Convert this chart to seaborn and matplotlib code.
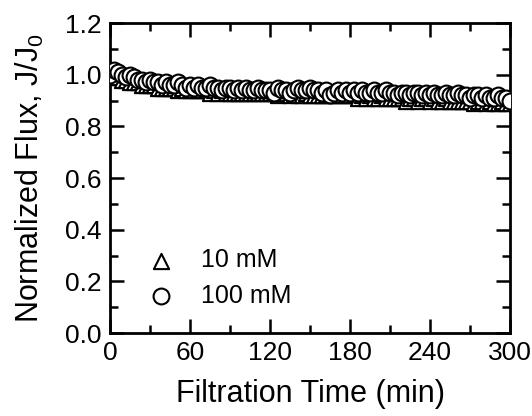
import matplotlib
matplotlib.use("Agg")
import seaborn as sns
from matplotlib import pyplot as plt
from matplotlib.ticker import MultipleLocator, FormatStrFormatter

# filtration time (min)
time_min = [
    0, 3, 6, 9, 12, 15, 18, 21, 24, 27,
    30, 33, 36, 39, 42, 45, 48, 51, 54, 57,
    60, 63, 66, 69, 72, 75, 78, 81, 84, 87,
    90, 93, 96, 99, 102, 105, 108, 111, 114, 117,
    120, 123, 126, 129, 132, 135, 138, 141, 144, 147,
    150, 153, 156, 159, 162, 165, 168, 171, 174, 177,
    180, 183, 186, 189, 192, 195, 198, 201, 204, 207,
    210, 213, 216, 219, 222, 225, 228, 231, 234, 237,
    240, 243, 246, 249, 252, 255, 258, 261, 264, 267,
    270, 273, 276, 279, 282, 285, 288, 291, 294, 297,
    300,
]

# normalized flux J/J0, 10 mM
flux_10mM = [
    1.00, 0.99, 0.99, 0.98, 0.98, 0.97, 0.97, 0.97, 0.96, 0.96,
    0.96, 0.96, 0.95, 0.95, 0.95, 0.95, 0.95, 0.94, 0.95, 0.94,
    0.94, 0.94, 0.94, 0.94, 0.94, 0.93, 0.94, 0.93, 0.94, 0.93,
    0.93, 0.93, 0.93, 0.93, 0.93, 0.93, 0.93, 0.93, 0.93, 0.93,
    0.93, 0.93, 0.92, 0.93, 0.93, 0.92, 0.93, 0.92, 0.92, 0.93,
    0.92, 0.92, 0.92, 0.92, 0.92, 0.92, 0.92, 0.92, 0.92, 0.92,
    0.92, 0.92, 0.91, 0.92, 0.91, 0.92, 0.91, 0.91, 0.92, 0.91,
    0.91, 0.91, 0.91, 0.91, 0.90, 0.91, 0.91, 0.90, 0.91, 0.91,
    0.90, 0.91, 0.90, 0.90, 0.91, 0.90, 0.90, 0.90, 0.90, 0.90,
    0.90, 0.89, 0.90, 0.90, 0.89, 0.90, 0.89, 0.89, 0.90, 0.89,
    0.89,
]

# normalized flux J/J0, 100 mM
flux_100mM = [
    1.00, 1.02, 1.01, 1.00, 0.99, 1.00, 0.99, 0.98, 0.98, 0.97,
    0.98, 0.97, 0.97, 0.96, 0.97, 0.96, 0.96, 0.97, 0.96, 0.95,
    0.96, 0.95, 0.96, 0.95, 0.95, 0.96, 0.95, 0.95, 0.94, 0.95,
    0.95, 0.94, 0.95, 0.94, 0.95, 0.94, 0.94, 0.95, 0.94, 0.94,
    0.94, 0.93, 0.95, 0.94, 0.94, 0.93, 0.94, 0.95, 0.94, 0.94,
    0.95, 0.94, 0.94, 0.93, 0.94, 0.92, 0.93, 0.94, 0.93, 0.94,
    0.93, 0.94, 0.93, 0.94, 0.93, 0.93, 0.94, 0.93, 0.93, 0.94,
    0.93, 0.93, 0.92, 0.93, 0.93, 0.92, 0.93, 0.93, 0.92, 0.93,
    0.92, 0.93, 0.92, 0.92, 0.93, 0.92, 0.92, 0.93, 0.92, 0.92,
    0.91, 0.92, 0.92, 0.91, 0.92, 0.91, 0.91, 0.92, 0.91, 0.91,
    0.90,
]

sns.set_style("ticks")
plt.rcParams["font.family"] = ["Liberation Sans", "DejaVu Sans"]
plt.rcParams.update({
    "text.color": "black",
    "axes.labelcolor": "black",
    "xtick.color": "black",
    "ytick.color": "black",
})

fig = plt.figure(figsize=(5.32, 4.16), dpi=100)
ax = fig.add_axes([0.2068, 0.1995, 0.7519, 0.7452])

marker_style = dict(color="white", edgecolor="black", linewidth=1.5, zorder=3)
sns.scatterplot(x=time_min, y=flux_10mM, marker="^", s=120, ax=ax, label="10 mM", **marker_style)
sns.scatterplot(x=time_min, y=flux_100mM, marker="o", s=130, ax=ax, label="100 mM", **marker_style)

ax.set_xlim(0, 300)
ax.set_ylim(0, 1.2)
ax.xaxis.set_major_locator(MultipleLocator(60))
ax.xaxis.set_minor_locator(MultipleLocator(30))
ax.yaxis.set_major_locator(MultipleLocator(0.2))
ax.yaxis.set_minor_locator(MultipleLocator(0.1))
ax.yaxis.set_major_formatter(FormatStrFormatter("%.1f"))

for side in ["left", "right", "top", "bottom"]:
    ax.spines[side].set_visible(True)
    ax.spines[side].set_linewidth(2)
    ax.spines[side].set_color("black")
ax.tick_params(which="both", direction="in", top=True, right=True, color="black",
               labelcolor="black", width=1.8)
ax.tick_params(which="major", length=10, labelsize=19, pad=6)
ax.tick_params(which="minor", length=6)

ax.set_xlabel("Filtration Time (min)", fontsize=22, labelpad=10, color="black")
ax.set_ylabel("Normalized Flux, J/J$_\\mathregular{0}$", fontsize=22, labelpad=14, color="black")

leg = ax.legend(loc="lower left", frameon=False, fontsize=18, markerscale=1.0,
                handletextpad=0.6, labelspacing=0.45, borderaxespad=0.0,
                bbox_to_anchor=(0.04, 0.05))
for txt in leg.get_texts():
    txt.set_color("black")

fig.savefig("out.png", dpi=100)
